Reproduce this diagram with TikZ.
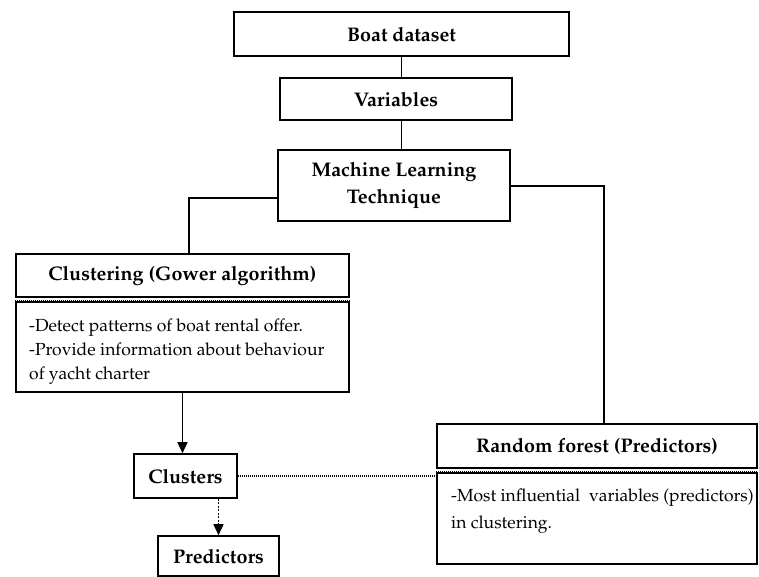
\documentclass[tikz,border=0pt]{standalone}
\usepackage[T1]{fontenc}
\usepackage{mathpazo}
\usetikzlibrary{arrows.meta}

\tikzset{
  box/.style={draw,line width=1.6pt,inner sep=0pt,align=center,
    font=\bfseries\fontsize{19.7}{27}\selectfont},
  note/.style={anchor=base west,inner sep=0pt,
    font=\fontsize{17.5}{24}\selectfont},
  sep/.style={line width=1.4pt,dash pattern=on 1pt off 1pt},
  link/.style={line width=1.6pt},
  tip/.style={-{Triangle[length=11pt,width=10pt]}}
}

\begin{document}
\begin{tikzpicture}[x=1pt,y=-1pt]
  \useasboundingbox (0,0) rectangle (759,576);

  \node[box,minimum width=335pt,minimum height=44pt] (data) at (401.5,34) {Boat dataset};
  \node[box,minimum width=232pt,minimum height=42pt] (vars) at (396,99) {Variables};
  \node[box,minimum width=232pt,minimum height=71pt] (mlt) at (394,185.5) {Machine Learning\\Technique};

  \node[box,minimum width=333pt,minimum height=43pt] (cluh) at (182.5,275.5) {Clustering (Gower algorithm)};
  \node[box,minimum width=333pt,minimum height=90pt] (club) at (182.5,347) {};
  \node[note] (clut) at (29,331)
    {\begin{tabular}[t]{@{}l@{}}-Detect patterns of boat rental offer.\\-Provide information about behaviour\\of yacht charter\end{tabular}};

  \node[box,minimum width=103pt,minimum height=44pt] (clus) at (185.5,476) {Clusters};
  \node[box,minimum width=121pt,minimum height=40pt] (pred) at (218.5,556) {Predictors};

  \node[box,minimum width=320pt,minimum height=44pt] (rfh) at (597,446) {Random forest (Predictors)};
  \node[box,minimum width=320pt,minimum height=91pt] (rfb) at (597,518.5) {};
  \node[note,font=\fontsize{17.5}{27}\selectfont] (rft) at (451,501)
    {\begin{tabular}[t]{@{}l@{}}-Most influential\ \ variables (predictors)\\in clustering.\end{tabular}};

  % dotted rules under the headers
  \draw[sep] ([yshift=-2.6pt]cluh.south west) -- ([yshift=-2.6pt]cluh.south east);
  \draw[sep] ([yshift=-2.6pt]rfh.south west) -- ([yshift=-2.6pt]rfh.south east);

  \draw[link] (data.south) -- (data.south |- vars.north);
  \draw[link] (data.south |- vars.south) -- (data.south |- mlt.north);
  \draw[link] ([yshift=-12.5pt]mlt.west) -| ([xshift=6.5pt]cluh.north);
  \draw[link] ([yshift=-0.5pt]mlt.east) -| ([xshift=7pt]rfh.north);
  \draw[link,tip] (club.south) -- (club.south |- clus.north);
  \draw[sep] (clus.east) -- (clus.east -| rfb.west);
  \draw[link,tip,dash pattern=on 2pt off 1.5pt] (pred.north |- clus.south) -- (pred.north);

\end{tikzpicture}
\end{document}
